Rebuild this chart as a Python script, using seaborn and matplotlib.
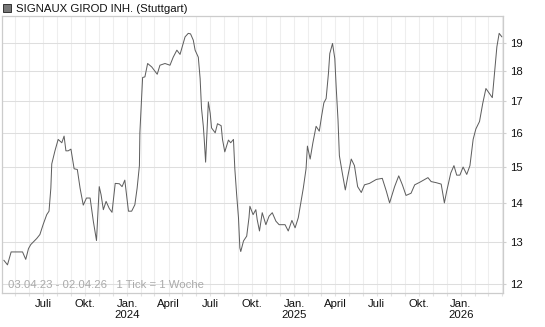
import matplotlib
matplotlib.use("Agg")
import matplotlib.pyplot as plt
import matplotlib.dates as mdates
import matplotlib.ticker as mticker
from matplotlib.patches import Rectangle
import pandas as pd
import seaborn as sns

title = "SIGNAUX GIROD INH. (Stuttgart)"
range_note = "03.04.23 - 02.04.26   1 Tick = 1 Woche"

dates = [
    "2023-04-06", "2023-04-14", "2023-04-22", "2023-05-17", "2023-05-24", "2023-05-30",
    "2023-06-04", "2023-06-17", "2023-06-24", "2023-07-01", "2023-07-09", "2023-07-14",
    "2023-07-18", "2023-07-20", "2023-07-27", "2023-08-03", "2023-08-11", "2023-08-16",
    "2023-08-20", "2023-08-25", "2023-08-31", "2023-09-07", "2023-09-14", "2023-09-20",
    "2023-09-27", "2023-10-04", "2023-10-12", "2023-10-19", "2023-10-26", "2023-10-29",
    "2023-11-01", "2023-11-05", "2023-11-10", "2023-11-16", "2023-11-23", "2023-11-29",
    "2023-12-06", "2023-12-15", "2023-12-21", "2023-12-27", "2024-01-04", "2024-01-11",
    "2024-01-18", "2024-01-23", "2024-01-28", "2024-01-29", "2024-02-02", "2024-02-04",
    "2024-02-09", "2024-02-15", "2024-02-24", "2024-03-07", "2024-03-13", "2024-03-24",
    "2024-04-04", "2024-04-11", "2024-04-19", "2024-04-26", "2024-05-03", "2024-05-07",
    "2024-05-14", "2024-05-19", "2024-05-25", "2024-05-29", "2024-06-05", "2024-06-09",
    "2024-06-12", "2024-06-16", "2024-06-18", "2024-06-21", "2024-06-25", "2024-06-27",
    "2024-07-01", "2024-07-04", "2024-07-12", "2024-07-17", "2024-07-25", "2024-07-28",
    "2024-08-02", "2024-08-10", "2024-08-15", "2024-08-21", "2024-08-24", "2024-08-28",
    "2024-09-01", "2024-09-04", "2024-09-06", "2024-09-12", "2024-09-19", "2024-09-24",
    "2024-09-26", "2024-10-03", "2024-10-09", "2024-10-12", "2024-10-17", "2024-10-23",
    "2024-10-31", "2024-11-07", "2024-11-14", "2024-11-22", "2024-11-29", "2024-12-12",
    "2024-12-19", "2024-12-27", "2025-01-03", "2025-01-10", "2025-01-16", "2025-01-21",
    "2025-01-27", "2025-01-30", "2025-02-05", "2025-02-11", "2025-02-18", "2025-02-25",
    "2025-03-02", "2025-03-07", "2025-03-12", "2025-03-17", "2025-03-20", "2025-03-26",
    "2025-03-31", "2025-04-03", "2025-04-07", "2025-04-10", "2025-04-16", "2025-04-23",
    "2025-04-29", "2025-05-06", "2025-05-13", "2025-05-20", "2025-05-28", "2025-06-04",
    "2025-06-15", "2025-06-22", "2025-06-30", "2025-07-13", "2025-07-22", "2025-07-29",
    "2025-08-09", "2025-08-18", "2025-08-26", "2025-09-03", "2025-09-14", "2025-09-22",
    "2025-10-03", "2025-10-14", "2025-10-21", "2025-10-28", "2025-11-08", "2025-11-19",
    "2025-11-26", "2025-12-01", "2025-12-10", "2025-12-17", "2025-12-23", "2025-12-30",
    "2026-01-06", "2026-01-14", "2026-01-21", "2026-01-28", "2026-02-03", "2026-02-11",
    "2026-02-18", "2026-02-25", "2026-03-02", "2026-03-11", "2026-03-17", "2026-03-21",
    "2026-03-26", "2026-04-01",
]
prices = [
    12.56, 12.45, 12.76, 12.76, 12.58, 12.84,
    12.94, 13.09, 13.19, 13.44, 13.70, 13.79,
    14.41, 15.09, 15.47, 15.81, 15.71, 15.91,
    15.47, 15.47, 15.52, 14.95, 14.93, 14.41,
    13.95, 14.14, 14.14, 13.53, 13.04, 13.75,
    14.45, 14.23, 13.83, 14.05, 13.86, 13.76,
    14.54, 14.53, 14.45, 14.63, 13.79, 13.79,
    13.96, 14.41, 15.04, 16.01, 17.17, 17.79,
    17.81, 18.27, 18.15, 17.90, 18.21, 18.27,
    18.21, 18.49, 18.74, 18.59, 18.99, 19.22,
    19.35, 19.33, 19.10, 18.74, 18.49, 17.75,
    16.78, 16.21, 15.81, 15.14, 16.31, 16.98,
    16.62, 16.16, 16.01, 16.29, 16.23, 15.81,
    15.44, 15.79, 15.71, 15.81, 14.95, 14.23,
    13.62, 12.86, 12.77, 13.03, 13.15, 13.62,
    13.92, 13.70, 13.83, 13.57, 13.28, 13.75,
    13.44, 13.66, 13.75, 13.53, 13.44, 13.44,
    13.28, 13.55, 13.36, 13.62, 14.05, 14.41,
    14.95, 15.61, 15.23, 15.71, 16.21, 16.06,
    16.52, 16.95, 17.09, 17.92, 18.62, 18.98,
    18.44, 17.47, 16.41, 15.33, 14.86, 14.36,
    14.77, 15.23, 15.04, 14.45, 14.29, 14.50,
    14.54, 14.59, 14.65, 14.68, 14.32, 14.01,
    14.45, 14.75, 14.50, 14.21, 14.27, 14.50,
    14.57, 14.65, 14.70, 14.59, 14.56, 14.52,
    14.01, 14.32, 14.83, 15.04, 14.77, 14.77,
    15.00, 14.79, 15.04, 15.81, 16.13, 16.36,
    16.93, 17.42, 17.31, 17.12, 18.15, 18.86,
    19.35, 19.22,
]

y_ticks = [12, 13, 14, 15, 16, 17, 18, 19]
x_tick_dates = ["2023-07-01", "2023-10-01", "2024-01-01", "2024-04-01", "2024-07-01",
                "2024-10-01", "2025-01-01", "2025-04-01", "2025-07-01", "2025-10-01",
                "2026-01-01"]
x_tick_labels = ["Juli", "Okt.", "Jan.\n2024", "April", "Juli", "Okt.", "Jan.\n2025",
                 "April", "Juli", "Okt.", "Jan.\n2026"]

sns.set_theme(style="white")
plt.rcParams["font.family"] = ["Liberation Sans", "DejaVu Sans"]

df = pd.DataFrame({"date": pd.to_datetime(dates), "price": prices})

fig = plt.figure(figsize=(5.45, 3.27), dpi=100)
ax = fig.add_axes([2 / 545, 34 / 327, 501 / 545, 277 / 327])

sns.lineplot(data=df, x="date", y="price", ax=ax, color="#5e5e5e", linewidth=0.72,
             estimator=None, zorder=3)

ax.set_yscale("log")
ax.set_ylim(11.8, 20.0)
ax.yaxis.set_major_locator(mticker.FixedLocator(y_ticks))
ax.yaxis.set_major_formatter(mticker.FixedFormatter([str(v) for v in y_ticks]))
ax.yaxis.set_minor_locator(mticker.NullLocator())
ax.yaxis.tick_right()
ax.yaxis.set_label_position("right")

ax.set_xlim(pd.Timestamp("2023-04-02"), pd.Timestamp("2026-04-03 10:00"))
ax.set_xticks(pd.to_datetime(x_tick_dates))
ax.set_xticklabels(x_tick_labels)
ax.xaxis.set_minor_locator(mdates.MonthLocator())

ax.set_xlabel("")
ax.set_ylabel("")

ax.tick_params(axis="y", which="major", length=2, width=0.8, color="#d0d0d0",
               pad=3, labelsize=8.2, labelcolor="#111111", right=True, left=False)
ax.tick_params(axis="x", which="both", length=2, width=0.8, color="#e2e2e2",
               pad=2, labelsize=8.2, labelcolor="#111111", bottom=True)

ax.grid(True, axis="y", which="major", color="#dedede", linewidth=0.75, zorder=0)
ax.grid(True, axis="x", which="both", color="#eeeeee", linewidth=0.75, zorder=0)
ax.set_axisbelow(True)
for s in ax.spines.values():
    s.set_color("#cccccc")
    s.set_linewidth(0.9)

ax.text(0.012, 0.03, range_note, transform=ax.transAxes, fontsize=8.2,
        color="#aaaaaa", ha="left", va="center", zorder=4)

fig.patches.append(Rectangle((3 / 545, 1 - 12 / 327), 8 / 545, 8 / 327,
                             transform=fig.transFigure, facecolor="#777777",
                             edgecolor="#333333", linewidth=0.7))
fig.text(16 / 545, 1 - 8.5 / 327, title, fontsize=8.2, color="#111111",
         ha="left", va="center")

fig.savefig("out.png", dpi=100)
